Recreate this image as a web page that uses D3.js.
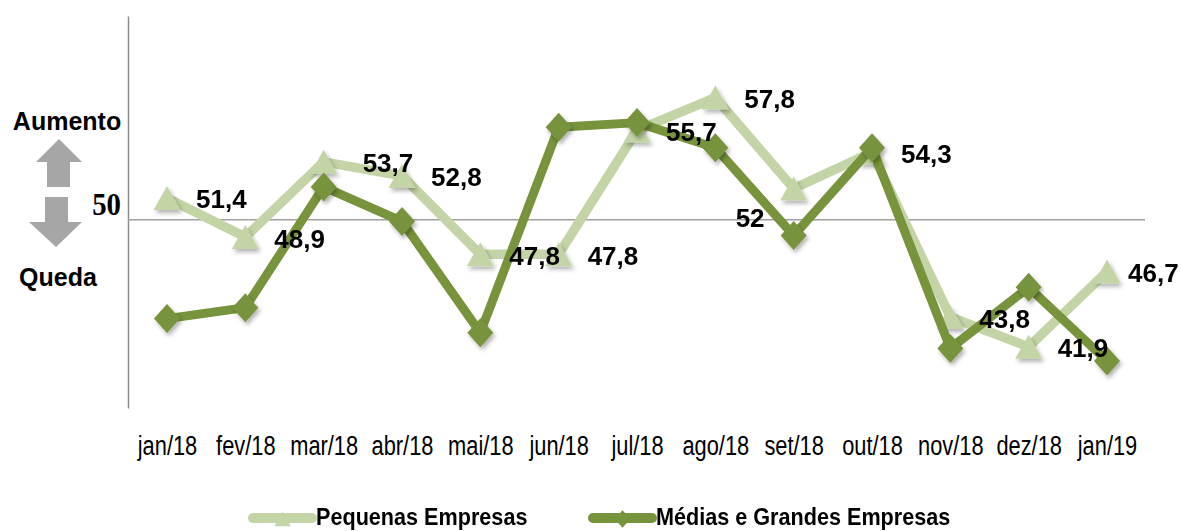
<!DOCTYPE html>
<html>
<head>
<meta charset="utf-8">
<script src="https://cdn.jsdelivr.net/npm/d3@7"></script>
<style>
  body { margin: 0; background: #fff; }
  svg { display: block; }
</style>
</head>
<body>
<div id="chart"></div>
<script>
// Sondagem: pequenas vs médias e grandes empresas (índice, 50 = linha divisória)
const months = ["jan/18", "fev/18", "mar/18", "abr/18", "mai/18", "jun/18", "jul/18",
                "ago/18", "set/18", "out/18", "nov/18", "dez/18", "jan/19"];
const pequenas = [51.4, 48.9, 53.7, 52.8, 47.8, 47.8, 55.7, 57.8, 52, 54.3, 43.8, 41.9, 46.7];
const medias = [43.7, 44.4, 52.1, 49.9, 42.8, 55.9, 56.2, 54.6, 49.0, 54.6, 41.8, 45.7, 41.0];
const seriesNames = ["Pequenas Empresas", "Médias e Grandes Empresas"];
const threshold = 50;

const width = 1181;
const height = 531;
const lightGreen = "#c3d5a6";
const darkGreen = "#77933c";

const svg = d3.select("#chart").append("svg")
    .attr("width", width)
    .attr("height", height);

const defs = svg.append("defs");
const shadow = defs.append("filter")
    .attr("id", "shadow")
    .attr("x", "-50%").attr("y", "-50%")
    .attr("width", "200%").attr("height", "200%");
shadow.append("feDropShadow")
    .attr("dx", 2).attr("dy", 3)
    .attr("stdDeviation", 2)
    .attr("flood-color", "#000")
    .attr("flood-opacity", 0.3);

const x = d3.scalePoint()
    .domain(months)
    .range([167, 1107]);

const y = d3.scaleLinear()
    .domain([38, 63])
    .range([408, 16]);

// y axis: just the line
svg.append("g")
    .attr("transform", "translate(128,0)")
    .call(d3.axisLeft(y).ticks(0).tickSizeOuter(0))
    .call(g => g.select(".domain").attr("stroke", "#8c8c8c").attr("stroke-width", 1.5));

// x axis labels (no line)
const xAxis = svg.append("g")
    .attr("transform", "translate(0,408)")
    .call(d3.axisBottom(x).tickSize(0).tickPadding(0));
xAxis.select(".domain").remove();
xAxis.selectAll("text")
    .attr("y", 47)
    .attr("dy", 0)
    .attr("transform", "scale(0.78,1)")
    .style("font-family", "'Liberation Sans', Arial, sans-serif")
    .style("font-size", "28px")
    .attr("fill", "#000");

// reference line at 50
svg.append("line")
    .attr("x1", 128).attr("x2", 1145)
    .attr("y1", y(threshold)).attr("y2", y(threshold))
    .attr("stroke", "#a0a0a0")
    .attr("stroke-width", 1.5);

// left annotation
const ann = svg.append("g").style("font-family", "'Liberation Sans', Arial, sans-serif");
ann.append("text").attr("x", 67).attr("y", 130)
    .attr("text-anchor", "middle").style("font-weight", "bold").style("font-size", "25px")
    .text("Aumento");
ann.append("text").attr("x", 58).attr("y", 286)
    .attr("text-anchor", "middle").style("font-weight", "bold").style("font-size", "25px")
    .text("Queda");
ann.append("path")
    .attr("d", "M59,139 L82,162 L70,162 L70,187 L47,187 L47,162 L36,162 Z")
    .attr("fill", "#a6a6a6");
ann.append("path")
    .attr("d", "M45,197 L68,197 L68,222 L82,222 L56,247 L29,222 L45,222 Z")
    .attr("fill", "#a6a6a6");
ann.append("text")
    .attr("transform", "translate(121,215) scale(0.93,1)")
    .attr("text-anchor", "end")
    .style("font-family", "'Liberation Serif', 'Times New Roman', serif")
    .style("font-weight", "bold").style("font-size", "31px")
    .text("50");

const line = d3.line()
    .x((d, i) => x(months[i]))
    .y(d => y(d));

const triangle = "M0,-12 L13.5,12 L-13.5,12 Z";
const diamond = "M0,-14.5 L13,0 L0,14.5 L-13,0 Z";

// Pequenas (light)
svg.append("path")
    .datum(pequenas)
    .attr("d", line)
    .attr("fill", "none")
    .attr("stroke", lightGreen)
    .attr("stroke-width", 9.5)
    .attr("stroke-linejoin", "round");

svg.append("g")
    .attr("filter", "url(#shadow)")
    .selectAll("path")
    .data(pequenas)
    .join("path")
    .attr("transform", (d, i) => `translate(${x(months[i])},${y(d)})`)
    .attr("d", triangle)
    .attr("fill", lightGreen);

// Médias e Grandes (dark)
svg.append("path")
    .datum(medias)
    .attr("d", line)
    .attr("fill", "none")
    .attr("stroke", darkGreen)
    .attr("stroke-width", 9)
    .attr("stroke-linejoin", "round");

svg.append("g")
    .attr("filter", "url(#shadow)")
    .selectAll("path")
    .data(medias)
    .join("path")
    .attr("transform", (d, i) => `translate(${x(months[i])},${y(d)})`)
    .attr("d", diamond)
    .attr("fill", darkGreen);

// data labels (Pequenas)
const nudge = { 2: [10, 0], 8: [-87, 28], 12: [-8, 0] };
svg.append("g")
    .selectAll("text")
    .data(pequenas)
    .join("text")
    .attr("x", (d, i) => x(months[i]) + 29 + (nudge[i] ? nudge[i][0] : 0))
    .attr("y", (d, i) => y(d) + 10.5 + (nudge[i] ? nudge[i][1] : 0))
    .style("font-family", "'Liberation Sans', Arial, sans-serif")
    .style("font-weight", "bold")
    .style("font-size", "26px")
    .attr("fill", "#000")
    .text(d => String(d).replace(".", ","));

// legend
const legend = svg.append("g").style("font-family", "'Liberation Sans', Arial, sans-serif");
const legendItems = [
    { name: seriesNames[0], color: lightGreen, shape: triangle, x0: 253 },
    { name: seriesNames[1], color: darkGreen, shape: diamond, x0: 593 }
];
legendItems.forEach(it => {
    legend.append("line")
        .attr("x1", it.x0).attr("x2", it.x0 + 59)
        .attr("y1", 518).attr("y2", 518)
        .attr("stroke", it.color)
        .attr("stroke-width", 10)
        .attr("stroke-linecap", "round");
    legend.append("path")
        .attr("transform", `translate(${it.x0 + 29.5},519) scale(0.6)`)
        .attr("d", it.shape)
        .attr("fill", it.color);
    legend.append("text")
        .attr("transform", `translate(${it.x0 + 63},525) scale(0.94,1)`)
        .style("font-weight", "bold")
        .style("font-size", "23px")
        .attr("fill", "#000")
        .text(it.name);
});
</script>
</body>
</html>
